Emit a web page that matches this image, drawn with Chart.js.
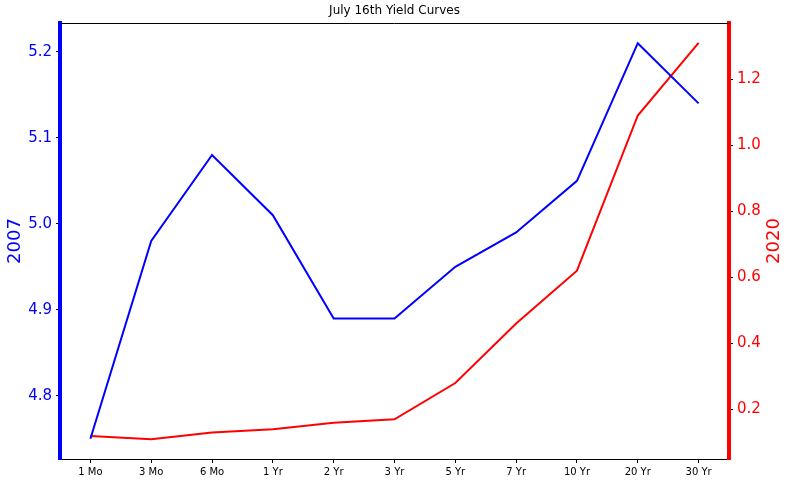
<!DOCTYPE html>
<html>
<head>
<meta charset="utf-8">
<script src="https://cdn.jsdelivr.net/npm/chart.js@4"></script>
<style>
  html, body { margin: 0; padding: 0; background: #fff; }
  #wrap { width: 789px; height: 482px; }
</style>
</head>
<body>
<div id="wrap"><canvas id="yield-chart"></canvas></div>
<script>
  'use strict'

  // July 16th yields
  var maturities = ['1 Mo', '3 Mo', '6 Mo', '1 Yr', '2 Yr', '3 Yr', '5 Yr', '7 Yr', '10 Yr', '20 Yr', '30 Yr']
  var yields2007 = [4.75, 4.98, 5.08, 5.01, 4.89, 4.89, 4.95, 4.99, 5.05, 5.21, 5.14]
  var yields2020 = [0.12, 0.11, 0.13, 0.14, 0.16, 0.17, 0.28, 0.46, 0.62, 1.09, 1.31]
  var leftTicks = [4.8, 4.9, 5.0, 5.1, 5.2]
  var rightTicks = [0.2, 0.4, 0.6, 0.8, 1.0, 1.2]

  var font = 'DejaVu Sans'

  // top frame line, and the right axis title read bottom-to-top like matplotlib
  var extras = {
    id: 'extras',
    afterDraw: function (chart) {
      var a = chart.chartArea
      var ctx = chart.ctx
      ctx.save()
      ctx.strokeStyle = '#000'
      ctx.lineWidth = 1
      ctx.beginPath()
      ctx.moveTo(a.left, a.top + 0.5)
      ctx.lineTo(a.right, a.top + 0.5)
      ctx.stroke()

      ctx.translate(774, (a.top + a.bottom) / 2)
      ctx.rotate(-Math.PI / 2)
      ctx.fillStyle = 'red'
      ctx.font = '18px "' + font + '"'
      ctx.textAlign = 'center'
      ctx.textBaseline = 'middle'
      ctx.fillText('2020', 0, 0)
      ctx.restore()
    }
  }

  var ctx = document.getElementById('yield-chart').getContext('2d')

  new Chart(ctx, {
    type: 'line',
    data: {
      labels: maturities,
      datasets: [
        {
          label: '2007',
          data: yields2007,
          borderColor: 'blue',
          borderWidth: 2,
          pointRadius: 0,
          tension: 0,
          yAxisID: 'y'
        },
        {
          label: '2020',
          data: yields2020,
          borderColor: 'red',
          borderWidth: 2,
          pointRadius: 0,
          tension: 0,
          yAxisID: 'y1'
        }
      ]
    },
    options: {
      responsive: true,
      maintainAspectRatio: false,
      animation: false,
      layout: { padding: 0 },
      plugins: {
        legend: { display: false },
        tooltip: { enabled: false },
        title: {
          display: true,
          text: 'July 16th Yield Curves',
          color: '#000',
          font: { family: font, size: 12, weight: 'normal' },
          padding: { top: 4, bottom: 4.6 }
        }
      },
      scales: {
        x: {
          offset: true,
          afterFit: function (s) { s.height = 23 },
          grid: { drawOnChartArea: false, drawTicks: true, tickLength: 4, color: '#000', offset: false },
          border: { color: '#000', width: 1 },
          ticks: { color: '#000', font: { family: font, size: 10 }, padding: 3, maxRotation: 0, autoSkip: false }
        },
        y: {
          position: 'left',
          min: 4.7265,
          max: 5.2335,
          afterFit: function (s) { s.width = 60 },
          afterBuildTicks: function (s) { s.ticks = leftTicks.map(function (v) { return { value: v } }) },
          grid: { drawOnChartArea: false, drawTicks: true, tickLength: 4, color: '#000' },
          border: { color: 'blue', width: 4 },
          ticks: {
            color: 'blue',
            font: { family: font, size: 15 },
            padding: 4,
            callback: function (v) { return v.toFixed(1) }
          },
          title: {
            display: true,
            text: '2007',
            color: 'blue',
            font: { family: font, size: 18 },
            padding: { top: 5, bottom: 0 }
          }
        },
        y1: {
          position: 'right',
          min: 0.05,
          max: 1.37,
          afterFit: function (s) { s.width = 60 },
          afterBuildTicks: function (s) { s.ticks = rightTicks.map(function (v) { return { value: v } }) },
          grid: { drawOnChartArea: false, drawTicks: true, tickLength: 4, color: '#000' },
          border: { color: 'red', width: 4 },
          ticks: {
            color: 'red',
            font: { family: font, size: 15 },
            padding: 4,
            callback: function (v) { return v.toFixed(1) }
          }
        }
      }
    },
    plugins: [extras]
  })
</script>
</body>
</html>
